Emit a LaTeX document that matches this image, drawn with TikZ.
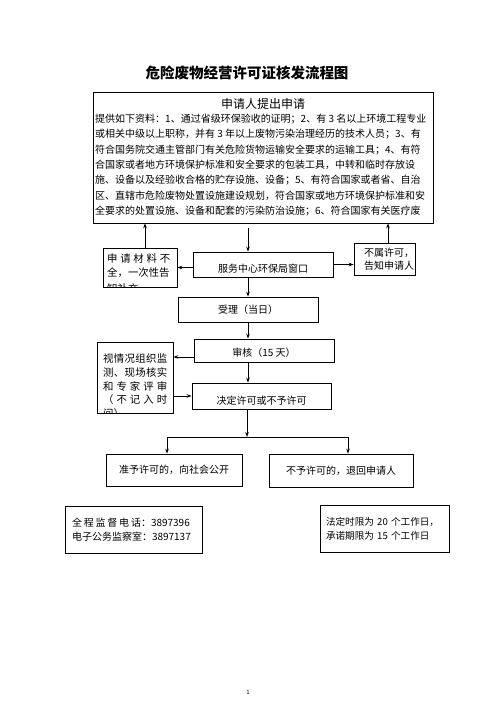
\documentclass[tikz,border=0pt]{standalone}
\usepackage{fontspec}
\setmainfont{Noto Sans CJK SC}
\usetikzlibrary{arrows.meta}
\newcommand{\fsz}[1]{\fontsize{#1}{#1}\selectfont}
\tikzset{
  box/.style={draw, line width=0.8pt, inner sep=0pt, font=\fsz{10}},
  arr/.style={-{Stealth[length=5pt,width=3.6pt]}, line width=0.7pt},
  ln/.style={anchor=west, inner sep=0pt, font=\fsz{10}},
  sln/.style={anchor=west, inner sep=0pt, font=\fsz{10.4}},
  shiftdown/.style={text height=#1, text depth=0pt},
}
\begin{document}
\begin{tikzpicture}[x=1pt,y=-1pt]
\useasboundingbox (0,0) rectangle (496,702);
\fill[white] (0,0) rectangle (496,702);

\node[font=\bfseries\fsz{14.5}] (title) at (247,73) {危险废物经营许可证核发流程图};

% big application box
\node[box, minimum width=340pt, minimum height=131pt] (apply) at (263,157.5) {};
\node[font=\fsz{12}, inner sep=0pt] (head) at (263,104) {申请人提出申请};
\begin{scope}
\clip (apply.south west) rectangle (apply.north east);
\node[ln] (l1) at (95,119) {提供如下资料：1、通过省级环保验收的证明；2、有 3 名以上环境工程专业};
\node[ln] (l2) at (95,134.3) {或相关中级以上职称，并有 3 年以上废物污染治理经历的技术人员；3、有};
\node[ln] (l3) at (95,149.6) {符合国务院交通主管部门有关危险货物运输安全要求的运输工具；4、有符};
\node[ln] (l4) at (95,165) {合国家或者地方环境保护标准和安全要求的包装工具，中转和临时存放设};
\node[ln] (l5) at (95,180.5) {施、设备以及经验收合格的贮存设施、设备；5、有符合国家或者省、自治};
\node[ln] (l6) at (95,195.8) {区、直辖市危险废物处置设施建设规划，符合国家或地方环境保护标准和安};
\node[ln] (l7) at (95,211) {全要求的处置设施、设备和配套的污染防治设施；6、符合国家有关医疗废};
\end{scope}

% service window row
\node[box, minimum width=140pt, minimum height=25pt, shiftdown=16.6pt] (window) at (263,264.5) {服务中心环保局窗口};

\node[box, minimum width=74pt, minimum height=39pt] (lb1) at (140,267.5) {};
\begin{scope}
\clip (lb1.south west) rectangle (lb1.north east);
\node[sln] (lb1a) at (107,259) {\makebox[63pt][s]{申\hfill 请\hfill 材\hfill 料\hfill 不}};
\node[sln] (lb1b) at (107,273) {全，一次性告};
\node[sln] (lb1c) at (107,288.5) {知补充};
\end{scope}

\node[box, minimum width=61pt, minimum height=32pt, align=center, font=\fsz{10}] (rb) at (384.5,259.3)
  {\hspace*{9pt}不属许可，\\[2.6pt]\hspace*{9pt}告知申请人};

\node[box, minimum width=140pt, minimum height=25pt] (accept) at (248,309.5) {受理（当日）};
\node[box, minimum width=140pt, minimum height=23pt, shiftdown=12.6pt] (review) at (264,350.5) {审核（15 天）};

\node[box, minimum width=76pt, minimum height=71pt] (lb2) at (135,377.5) {};
\begin{scope}
\clip (lb2.south west) rectangle (lb2.north east);
\node[sln] (lb2a) at (103,359) {\makebox[64pt][s]{视\hfill 情\hfill 况\hfill 组\hfill 织\hfill 监}};
\node[sln] (lb2b) at (103,372.7) {\makebox[64pt][s]{测\hfill 、\hfill 现\hfill 场\hfill 核\hfill 实}};
\node[sln] (lb2c) at (103,386.4) {\makebox[64pt][s]{和\hfill 专\hfill 家\hfill 评\hfill 审}};
\node[sln] (lb2d) at (103,400) {\makebox[64pt][s]{（\hfill 不\hfill 记\hfill 入\hfill 时}};
\node[sln] (lb2e) at (103,414) {间）};
\end{scope}

\node[box, minimum width=139pt, minimum height=26pt, shiftdown=17.6pt] (decide) at (261.5,396) {决定许可或不予许可};

\node[box, minimum width=136pt, minimum height=32pt] (good) at (174,470) {准予许可的，向社会公开};
\node[box, minimum width=144pt, minimum height=33pt] (bad) at (341,470.5) {不予许可的，退回申请人};

% notes
\node[box, minimum width=137pt, minimum height=47pt, text width=123pt, align=left] (phone) at (133.5,529.8)
  {\makebox[69pt][s]{全\hfill 程\hfill 监\hfill 督\hfill 电\hfill 话}：3897396\\[4.2pt]电子公务监察室：3897137};
\node[box, minimum width=129pt, minimum height=47pt, text width=117pt, align=left, font=\fsz{9.6}] (limit) at (384.5,528.8)
  {\mbox{法定时限为 20 个工作日，}\\[4.6pt]\mbox{承诺期限为 15 个工作日}};

% connectors
\coordinate (spine) at (248,0);
\coordinate (upL) at (145,0);
\coordinate (upR) at (388,0);
\draw[arr, shorten <=5pt] (apply.south -| spine) -- (window.north -| spine);
\draw[arr] (lb1.north -| upL) -- (apply.south -| upL);
\draw[arr] (rb.north -| upR) -- (apply.south -| upR);
\draw[arr] (window.west |- lb1.east) -- (lb1.east);
\draw[arr] (window.east) -- (window.east -| rb.west);
\draw[arr] (window.south -| spine) -- (accept.north -| spine);
\draw[arr] (accept.south -| spine) -- (review.north -| spine);
\draw[arr] ([yshift=-6.5pt]review.west) -- ([yshift=-6.5pt]review.west -| lb2.east);
\draw[arr] (review.south -| spine) -- (decide.north -| spine);
\draw[arr] (decide.west -| lb2.east) -- (decide.west);
\coordinate (split) at (247,437);
\coordinate (splitL) at (167,437);
\coordinate (splitR) at (348,437);
\draw[arr] (decide.south -| split) -- (split);
\draw[line width=0.7pt] (splitL) -- (splitR);
\draw[arr] (splitL) -- (good.north -| splitL);
\draw[arr] (splitR) -- (bad.north -| splitR);

\node[font=\fsz{6}, inner sep=0pt] (page) at (248,692) {1};
\end{tikzpicture}
\end{document}
